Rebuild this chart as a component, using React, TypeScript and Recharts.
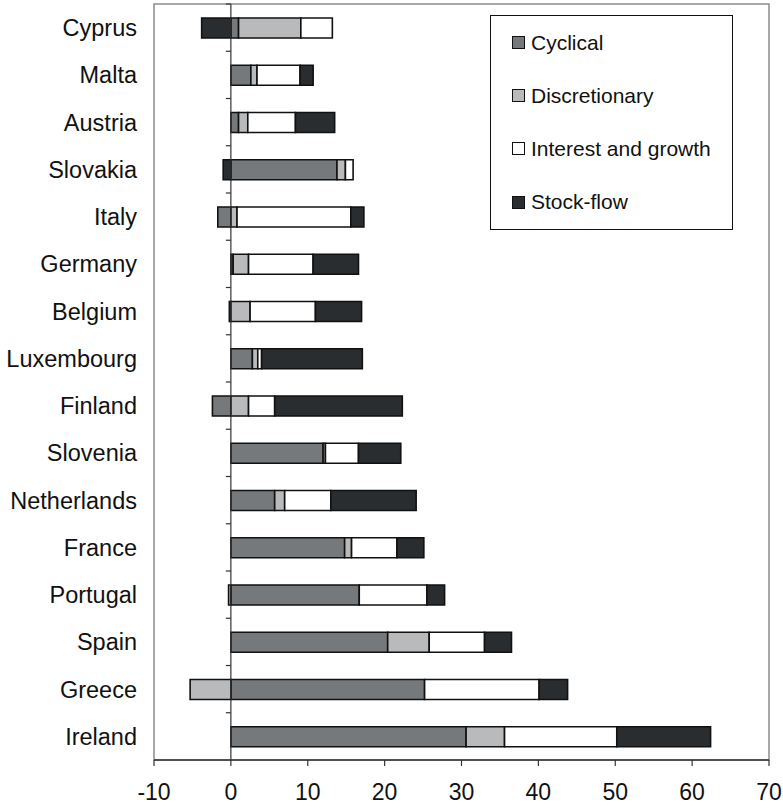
import { BarChart, Bar, XAxis, YAxis, ReferenceLine, ReferenceArea, Legend } from 'recharts';

// Fiscal deterioration decomposition by country (percentage points)
const countries = [
  'Cyprus', 'Malta', 'Austria', 'Slovakia', 'Italy', 'Germany', 'Belgium', 'Luxembourg',
  'Finland', 'Slovenia', 'Netherlands', 'France', 'Portugal', 'Spain', 'Greece', 'Ireland',
];
const cyclical = [1.0, 2.6, 1.0, 13.8, -1.7, 0.3, -0.2, 2.8, -2.4, 12.0, 5.7, 14.8, 16.7, 20.4, 25.2, 30.6];
const discretionary = [8.1, 0.8, 1.2, 1.1, 0.8, 2.0, 2.5, 0.7, 2.3, 0.3, 1.3, 0.9, -0.3, 5.4, -5.3, 5.0];
const interestGrowth = [4.1, 5.6, 6.2, 1.0, 14.8, 8.4, 8.5, 0.5, 3.4, 4.3, 6.0, 5.9, 8.8, 7.2, 14.9, 14.6];
const stockFlow = [-3.8, 1.7, 5.1, -1.0, 1.7, 5.9, 6.0, 13.1, 16.6, 5.5, 11.1, 3.5, 2.3, 3.5, 3.7, 12.2];

const seriesKeys = ['cyclical', 'discretionary', 'interestGrowth', 'stockFlow'];
const seriesNames = ['Cyclical', 'Discretionary', 'Interest and growth', 'Stock-flow'];
const seriesColors = ['#76797b', '#b9babb', '#ffffff', '#2a2d30'];
const xTicks = [-10, 0, 10, 20, 30, 40, 50, 60, 70];

const data = countries.map((country, i) => ({
  country,
  cyclical: cyclical[i],
  discretionary: discretionary[i],
  interestGrowth: interestGrowth[i],
  stockFlow: stockFlow[i],
}));

const W = 783;
const H = 809;
const PLOT_LEFT = 154;
const PLOT_TOP = 4;
const PLOT_RIGHT = 769;
const X_AXIS_H = 49;
const PLOT_BOTTOM = H - X_AXIS_H;
const BAND = (PLOT_BOTTOM - PLOT_TOP) / countries.length;
const ZERO_X = PLOT_LEFT + ((0 - xTicks[0]) / (xTicks[xTicks.length - 1] - xTicks[0])) * (PLOT_RIGHT - PLOT_LEFT);
const FONT = '"Liberation Sans", Arial, sans-serif';

function CountryTick(props: any) {
  const { y, payload } = props;
  return (
    <g>
      <text x={137} y={y} dy="0.36em" textAnchor="end" fontSize={23.5} fill="#111" fontFamily={FONT}>
        {payload.value}
      </text>
      <line x1={ZERO_X - 5} x2={ZERO_X} y1={y - BAND / 2} y2={y - BAND / 2} stroke="#333" strokeWidth={1.2} />
    </g>
  );
}

function LegendBox() {
  return (
    <div
      style={{
        boxSizing: 'border-box',
        width: 243,
        height: 215,
        border: '1px solid #111',
        background: '#fff',
        paddingTop: 0,
        fontFamily: FONT,
        fontSize: 21,
        color: '#111',
      }}
    >
      {seriesNames.map((name, i) => (
        <div key={name} style={{ height: 53.2, display: 'flex', alignItems: 'center', paddingLeft: 21 }}>
          <span
            style={{
              display: 'inline-block',
              boxSizing: 'border-box',
              width: 13,
              height: 13,
              background: seriesColors[i],
              border: '1.5px solid #111',
              marginRight: 6,
            }}
          />
          <span>{name}</span>
        </div>
      ))}
    </div>
  );
}

export default function App() {
  return (
    <div style={{ position: 'absolute', left: 0, top: 0, background: '#fff' }}>
      <BarChart
        width={W}
        height={H}
        data={data}
        layout="vertical"
        stackOffset="sign"
        barSize={20}
        margin={{ top: PLOT_TOP, right: W - PLOT_RIGHT, bottom: 0, left: 0 }}
      >
        <ReferenceArea x1={-10} x2={70} fill="none" stroke="#8c8c8c" strokeWidth={1.5} ifOverflow="visible" />
        <XAxis
          type="number"
          domain={[-10, 70]}
          ticks={xTicks}
          height={X_AXIS_H}
          tickSize={6}
          tickMargin={18}
          axisLine={{ stroke: '#333', strokeWidth: 1.5 }}
          tickLine={{ stroke: '#333', strokeWidth: 1.2 }}
          tick={{ fontSize: 23, fill: '#111', fontFamily: FONT }}
        />
        <YAxis
          type="category"
          dataKey="country"
          width={PLOT_LEFT}
          axisLine={false}
          tickLine={false}
          tickSize={0}
          interval={0}
          tick={CountryTick}
        />
        <ReferenceLine x={0} stroke="#333" strokeWidth={1.2} />
        {seriesKeys.map((key, i) => (
          <Bar
            key={key}
            dataKey={key}
            name={seriesNames[i]}
            stackId="a"
            fill={seriesColors[i]}
            stroke="#111"
            strokeWidth={1.6}
            isAnimationActive={false}
          />
        ))}
        <Legend
          layout="vertical"
          align="center"
          verticalAlign="middle"
          content={() => <LegendBox />}
          wrapperStyle={{ top: 15, left: 490, width: 243, height: 215 }}
        />
      </BarChart>
    </div>
  );
}
